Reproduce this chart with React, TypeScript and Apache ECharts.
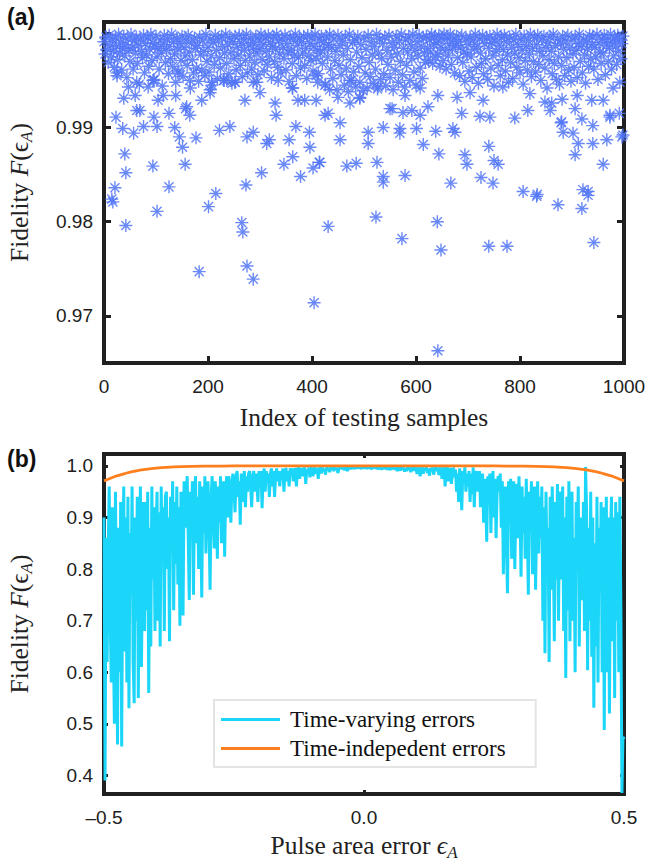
import React, { useEffect, useRef } from "react";
import * as echarts from "echarts";

// ---------- Panel (a): fidelity of 1000 testing samples ----------
const indexMin = 0;
const indexMax = 1000;
const indexTickStep = 200;
const fidelityTicksA = [0.97, 0.98, 0.99, 1.0];

// dense band of samples near F = 1 (sample index = bandStart + k * bandStep)
const bandStart = 0;
const bandStep = 2;
const bandFidelity = [
  0.9991, 0.9978, 0.9996, 0.9983, 0.9969, 0.9998, 0.9987, 0.9975, 0.9993, 0.9981,
  0.9964, 0.9995, 0.9986, 0.9972, 0.9999, 0.9979, 0.999, 0.9961, 0.9984, 0.9997,
  0.9976, 0.9988, 0.9953, 0.9994, 0.9982, 0.997, 0.9999, 0.9985, 0.9962, 0.9992,
  0.9979, 0.9996, 0.9968, 0.9987, 0.9946, 0.9993, 0.9981, 0.9974, 0.9998, 0.9958,
  0.9989, 0.9977, 0.9995, 0.9965, 0.9983, 0.9999, 0.9971, 0.999, 0.9951, 0.9986,
  0.9997, 0.9975, 0.9984, 0.9962, 0.9993, 0.9979, 0.9944, 0.9988, 0.9998, 0.9969,
  0.9982, 0.9994, 0.9957, 0.9986, 0.9973, 0.9999, 0.9965, 0.9991, 0.9978, 0.9948,
  0.9995, 0.9983, 0.996, 0.9989, 0.9971, 0.9997, 0.9954, 0.9985, 0.9976, 0.9993,
  0.9966, 0.9998, 0.998, 0.9942, 0.999, 0.9972, 0.9958, 0.9995, 0.9984, 0.9963,
  0.9987, 0.9949, 0.9996, 0.9977, 0.9961, 0.9992, 0.9981, 0.9955, 0.9999, 0.997,
  0.9985, 0.9959, 0.9994, 0.9976, 0.9945, 0.999, 0.9967, 0.9998, 0.9982, 0.9952,
  0.9993, 0.9974, 0.9963, 0.9996, 0.9986, 0.995, 0.9979, 0.9999, 0.9968, 0.9988,
  0.9957, 0.9995, 0.998, 0.9947, 0.9991, 0.9973, 0.9997, 0.9961, 0.9985, 0.9977,
  0.9998, 0.9966, 0.9989, 0.9954, 0.9994, 0.9982, 0.9971, 0.9999, 0.9958, 0.9987,
  0.9976, 0.9995, 0.9962, 0.999, 0.9983, 0.9969, 0.9997, 0.9979, 0.9956, 0.9993,
  0.9984, 0.9999, 0.9972, 0.9988, 0.996, 0.9995, 0.9981, 0.9967, 0.9998, 0.9975,
  0.999, 0.9953, 0.9986, 0.9996, 0.997, 0.9983, 0.9999, 0.9964, 0.9992, 0.9978,
  0.9958, 0.9994, 0.9985, 0.9973, 0.9998, 0.9961, 0.9989, 0.998, 0.9949, 0.9996,
  0.9982, 0.9968, 0.9993, 0.9977, 0.9999, 0.9955, 0.9987, 0.9974, 0.9995, 0.9963,
  0.9991, 0.9979, 0.9997, 0.9966, 0.9984, 0.9952, 0.9998, 0.9976, 0.9989, 0.9971,
  0.9995, 0.996, 0.9986, 0.9999, 0.9973, 0.9982, 0.9957, 0.9993, 0.9979, 0.9997,
  0.9968, 0.999, 0.9983, 0.9946, 0.9996, 0.9975, 0.9988, 0.9999, 0.9962, 0.9985,
  0.9952, 0.9994, 0.9971, 0.9981, 0.994, 0.9998, 0.9966, 0.9987, 0.9956, 0.9992,
  0.9977, 0.9945, 0.9996, 0.9963, 0.9984, 0.9938, 0.9999, 0.9972, 0.995, 0.999,
  0.9959, 0.9993, 0.9943, 0.998, 0.9997, 0.9965, 0.9948, 0.9988, 0.9974, 0.9939,
  0.9995, 0.9958, 0.9983, 0.9942, 0.9998, 0.9969, 0.9954, 0.9991, 0.9977, 0.9947,
  0.9986, 0.9962, 0.9999, 0.9941, 0.9979, 0.9994, 0.9951, 0.9973, 0.9989, 0.9957,
  0.9996, 0.9944, 0.9982, 0.9967, 0.9998, 0.9953, 0.9975, 0.999, 0.994, 0.9985,
  0.9961, 0.9997, 0.9978, 0.9948, 0.9992, 0.997, 0.9999, 0.9956, 0.9984, 0.9943,
  0.9993, 0.9966, 0.998, 0.9996, 0.995, 0.9988, 0.9973, 0.9999, 0.9959, 0.9982,
  0.9945, 0.9991, 0.9976, 0.9998, 0.9963, 0.9986, 0.9952, 0.9995, 0.9979, 0.9969,
  0.9997, 0.9984, 0.9972, 0.9993, 0.998, 0.9999, 0.9968, 0.9988, 0.9996, 0.9975,
  0.999, 0.9978, 0.9998, 0.9965, 0.9985, 0.9994, 0.9971, 0.9999, 0.9982, 0.9962,
  0.9995, 0.9976, 0.9989, 0.9999, 0.9967, 0.9983, 0.9993, 0.9958, 0.9987, 0.9997,
  0.9974, 0.9991, 0.9955, 0.9985, 0.9998, 0.9969, 0.998, 0.9949, 0.9994, 0.9978,
  0.9988, 0.996, 0.9996, 0.9975, 0.9953, 0.9992, 0.9983, 0.9999, 0.9964, 0.9986,
  0.9947, 0.9994, 0.9979, 0.9968, 0.9998, 0.9957, 0.9989, 0.9973, 0.9995, 0.9951,
  0.9984, 0.9997, 0.9963, 0.999, 0.9976, 0.9944, 0.9993, 0.9981, 0.9999, 0.9966,
  0.9987, 0.9955, 0.9995, 0.9972, 0.9983, 0.9998, 0.996, 0.9991, 0.9977, 0.9948,
  0.9996, 0.9969, 0.9985, 0.9952, 0.9993, 0.9979, 0.9999, 0.9964, 0.9988, 0.9974,
  0.9958, 0.9994, 0.9982, 0.9946, 0.9997, 0.9971, 0.9986, 0.9961, 0.9992, 0.9978,
  0.9999, 0.9954, 0.9984, 0.997, 0.9995, 0.9959, 0.9988, 0.9998, 0.9967, 0.9981,
  0.995, 0.9993, 0.9976, 0.9997, 0.9963, 0.9985, 0.9942, 0.999, 0.9972, 0.9996,
  0.9981, 0.9957, 0.9999, 0.9968, 0.9987, 0.9951, 0.9994, 0.9975, 0.9946, 0.9989,
  0.9966, 0.9997, 0.9983, 0.9955, 0.9992, 0.9974, 0.9998, 0.9961, 0.9985, 0.9949,
  0.9993, 0.9978, 0.9964, 0.9996, 0.9982, 0.9953, 0.9989, 0.9999, 0.997, 0.9986,
  0.9958, 0.9994, 0.9977, 0.9947, 0.9991, 0.9983, 0.9965, 0.9998, 0.9973, 0.9988,
  0.9996, 0.9962, 0.9985, 0.9975, 0.9999, 0.9951, 0.999, 0.998, 0.9968, 0.9994,
  0.9979, 0.9998, 0.9956, 0.9987, 0.9993, 0.997, 0.9984, 0.9999, 0.9962, 0.9991,
  0.9976, 0.9995, 0.9986, 0.9967, 0.9998, 0.9981, 0.9993, 0.9973, 0.9989, 0.9997,
];

// scattered samples with lower fidelity: [sample index, fidelity]
const sparseSamples: [number, number][] = [
  [17, 0.9821], [42, 0.9796], [102, 0.9811], [201, 0.9816], [265, 0.9799], [267, 0.9789],
  [183, 0.9747], [275, 0.9753], [287, 0.9739], [404, 0.9714], [431, 0.9795], [523, 0.9805],
  [573, 0.9782], [641, 0.98], [648, 0.977], [740, 0.9774], [775, 0.9774], [942, 0.9778],
  [642, 0.9663], [873, 0.9818], [919, 0.9814], [833, 0.9829], [931, 0.9832],
  [21, 0.9836], [15, 0.9824], [42, 0.9852], [40, 0.9872], [94, 0.9859], [125, 0.9837],
  [156, 0.9861], [215, 0.983], [273, 0.9839], [303, 0.9852], [346, 0.9861], [363, 0.9869],
  [378, 0.9848], [402, 0.9857], [414, 0.9863],
  [23, 0.9911], [36, 0.9899], [57, 0.9894], [69, 0.9918], [76, 0.9901], [96, 0.9911],
  [102, 0.9901], [125, 0.9915], [136, 0.99], [145, 0.989], [151, 0.9879], [157, 0.992],
  [165, 0.9913], [177, 0.9889], [222, 0.9897], [242, 0.9901], [275, 0.989], [287, 0.9895],
  [313, 0.9883], [331, 0.9913], [318, 0.9887], [356, 0.9887], [369, 0.9901], [395, 0.9895],
  [396, 0.9879], [425, 0.9913],
  [25, 0.9955], [47, 0.9943], [38, 0.9931], [60, 0.9934], [63, 0.9918], [85, 0.9943],
  [96, 0.995], [104, 0.9929], [114, 0.9934], [138, 0.9934], [159, 0.9922], [188, 0.9929],
  [204, 0.9937], [207, 0.9948], [231, 0.995], [252, 0.9948], [271, 0.9929], [294, 0.9948],
  [300, 0.9937], [329, 0.9926], [363, 0.9942], [373, 0.9929], [386, 0.9929], [408, 0.9929],
  [408, 0.9955], [425, 0.9945],
  [431, 0.9915], [450, 0.9932], [454, 0.9905], [473, 0.9926], [492, 0.9932], [550, 0.992],
  [575, 0.9916], [592, 0.9918], [608, 0.9913], [623, 0.9922], [579, 0.9934], [688, 0.9915],
  [723, 0.9912], [742, 0.9911], [790, 0.991], [815, 0.9918], [858, 0.9918], [861, 0.9926],
  [880, 0.9906], [906, 0.992], [919, 0.9909], [940, 0.9902], [960, 0.9929], [973, 0.9913],
  [991, 0.9915], [998, 0.9892],
  [454, 0.9887], [508, 0.9895], [508, 0.9883], [537, 0.99], [569, 0.9899], [569, 0.9894],
  [601, 0.9899], [614, 0.9882], [638, 0.9896], [671, 0.9899], [675, 0.9895], [415, 0.9863],
  [467, 0.9859], [485, 0.9862], [525, 0.9863], [537, 0.9848], [537, 0.9842], [579, 0.9849],
  [644, 0.9872], [694, 0.9871], [698, 0.9861], [740, 0.988], [750, 0.9865], [758, 0.9861],
  [725, 0.9847], [748, 0.9841], [667, 0.9841], [806, 0.9832], [832, 0.9827], [906, 0.9871],
  [921, 0.9834], [931, 0.9828], [960, 0.9861], [879, 0.9905], [883, 0.9895], [902, 0.9894],
  [912, 0.9883], [940, 0.9883], [967, 0.9887], [973, 0.9911], [996, 0.989],
  [492, 0.9931], [527, 0.9943], [554, 0.992], [608, 0.9942], [642, 0.9934], [679, 0.9932],
  [704, 0.9937], [729, 0.9929], [767, 0.9943], [819, 0.9936], [848, 0.9927], [881, 0.993],
  [910, 0.9934], [938, 0.9929], [979, 0.9942], [992, 0.9948],
  [25, 0.9958], [63, 0.9948], [94, 0.995], [142, 0.9958], [165, 0.995], [204, 0.994],
  [236, 0.995], [252, 0.9948], [287, 0.9948], [335, 0.995], [362, 0.9942], [411, 0.9948],
  [434, 0.994], [473, 0.995],
];

// ---------- Panel (b): fidelity vs pulse area error ----------
const epsTicks = [-0.5, 0, 0.5];
const fidelityTicksB = [0.4, 0.5, 0.6, 0.7, 0.8, 0.9, 1.0];
const epsStart = -0.5;
const epsStep = 0.002;
const timeVaryingF = [
  0.9, 0.39, 0.86, 0.62, 0.83, 0.96, 0.7, 0.58, 0.92, 0.66,
  0.5, 0.95, 0.72, 0.46, 0.88, 0.6, 0.93, 0.456, 0.82, 0.96,
  0.64, 0.9, 0.58, 0.94, 0.53, 0.87, 0.75, 0.96, 0.62, 0.54,
  0.9, 0.7, 0.94, 0.55, 0.85, 0.96, 0.61, 0.8, 0.93, 0.68,
  0.93, 0.72, 0.95, 0.56, 0.88, 0.65, 0.96, 0.78, 0.92, 0.68,
  0.86, 0.95, 0.7, 0.91, 0.65, 0.96, 0.82, 0.92, 0.68, 0.94,
  0.95, 0.8, 0.9, 0.66, 0.94, 0.84, 0.97, 0.72, 0.93, 0.81,
  0.96, 0.77, 0.92, 0.69, 0.95, 0.85, 0.71, 0.97, 0.88, 0.93,
  0.98, 0.86, 0.74, 0.95, 0.88, 0.97, 0.75, 0.93, 0.98, 0.85,
  0.94, 0.8, 0.97, 0.9, 0.745, 0.96, 0.87, 0.98, 0.83, 0.95,
  0.97, 0.88, 0.76, 0.94, 0.98, 0.9, 0.84, 0.97, 0.92, 0.82,
  0.96, 0.89, 0.98, 0.85, 0.93, 0.97, 0.824, 0.95, 0.98, 0.9,
  0.98, 0.93, 0.89, 0.97, 0.985, 0.95, 0.91, 0.98, 0.99, 0.94,
  0.97, 0.886, 0.985, 0.93, 0.96, 0.99, 0.92, 0.98, 0.95, 0.985,
  0.99, 0.96, 0.92, 0.98, 0.99, 0.95, 0.985, 0.97, 0.93, 0.99,
  0.97, 0.99, 0.918, 0.98, 0.995, 0.95, 0.99, 0.97, 0.985, 0.94,
  0.985, 0.995, 0.96, 0.99, 0.94, 0.98, 0.995, 0.97, 0.99, 0.96,
  0.99, 0.975, 0.995, 0.95, 0.985, 0.996, 0.97, 0.99, 0.96, 0.995,
  0.99, 0.995, 0.97, 0.985, 0.996, 0.96, 0.99, 0.997, 0.975, 0.99,
  0.996, 0.98, 0.99, 0.997, 0.965, 0.993, 0.985, 0.997, 0.978, 0.995,
  0.996, 0.98, 0.993, 0.997, 0.985, 0.996, 0.975, 0.995, 0.997, 0.985,
  0.997, 0.99, 0.995, 0.983, 0.997, 0.992, 0.996, 0.988, 0.997, 0.994,
  0.996, 0.99, 0.997, 0.993, 0.996, 0.986, 0.997, 0.995, 0.997, 0.994,
  0.997, 0.992, 0.996, 0.997, 0.99, 0.996, 0.997, 0.994, 0.997, 0.995,
  0.997, 0.995, 0.997, 0.996, 0.997, 0.997, 0.996, 0.995, 0.997, 0.996,
  0.997, 0.996, 0.997, 0.995, 0.997, 0.996, 0.997, 0.994, 0.996, 0.997,
  0.997, 0.997, 0.995, 0.996, 0.994, 0.997, 0.996, 0.993, 0.996, 0.997,
  0.995, 0.997, 0.993, 0.996, 0.997, 0.992, 0.996, 0.997, 0.994, 0.996,
  0.993, 0.997, 0.99, 0.996, 0.995, 0.991, 0.997, 0.994, 0.996, 0.989,
  0.996, 0.99, 0.997, 0.993, 0.996, 0.988, 0.997, 0.994, 0.991, 0.997,
  0.996, 0.984, 0.997, 0.993, 0.98, 0.995, 0.997, 0.985, 0.996, 0.992,
  0.997, 0.986, 0.995, 0.981, 0.996, 0.99, 0.997, 0.983, 0.994, 0.997,
  0.99, 0.997, 0.982, 0.994, 0.996, 0.975, 0.99, 0.997, 0.96, 0.993,
  0.997, 0.97, 0.99, 0.996, 0.965, 0.985, 0.997, 0.978, 0.993, 0.95,
  0.985, 0.93, 0.995, 0.96, 0.914, 0.99, 0.975, 0.997, 0.95, 0.985,
  0.96, 0.99, 0.93, 0.985, 0.945, 0.997, 0.92, 0.975, 0.99, 0.95,
  0.97, 0.99, 0.92, 0.96, 0.985, 0.89, 0.975, 0.94, 0.853, 0.98,
  0.93, 0.985, 0.87, 0.96, 0.99, 0.9, 0.975, 0.86, 0.95, 0.98,
  0.95, 0.985, 0.88, 0.97, 0.79, 0.93, 0.96, 0.84, 0.753, 0.97,
  0.9, 0.975, 0.82, 0.94, 0.97, 0.8, 0.92, 0.965, 0.86, 0.98,
  0.91, 0.785, 0.96, 0.87, 0.94, 0.82, 0.975, 0.89, 0.75, 0.95,
  0.88, 0.97, 0.79, 0.93, 0.96, 0.76, 0.9, 0.97, 0.83, 0.94,
  0.86, 0.96, 0.7, 0.92, 0.637, 0.95, 0.8, 0.88, 0.62, 0.94,
  0.76, 0.96, 0.85, 0.66, 0.93, 0.78, 0.965, 0.7, 0.9, 0.95,
  0.78, 0.96, 0.68, 0.9, 0.589, 0.94, 0.72, 0.97, 0.66, 0.89,
  0.95, 0.7, 0.86, 0.6, 0.93, 0.8, 0.96, 0.65, 0.9, 0.74,
  0.75, 0.93, 0.68, 0.998, 0.92, 0.604, 0.88, 0.7, 0.95, 0.63,
  0.9, 0.531, 0.85, 0.65, 0.94, 0.58, 0.88, 0.76, 0.93, 0.6,
  0.92, 0.488, 0.8, 0.94, 0.6, 0.9, 0.52, 0.86, 0.94, 0.66,
  0.9, 0.55, 0.93, 0.7, 0.91, 0.6, 0.94, 0.72, 0.366, 0.475,
  0.47,
];
const timeIndepEps = [
  -0.5, -0.49, -0.48, -0.47, -0.46, -0.45, -0.44, -0.42, -0.4, -0.38, -0.35, -0.3, -0.25, -0.15,
  0, 0.15, 0.25, 0.3, 0.35, 0.38, 0.4, 0.42, 0.44, 0.45, 0.46, 0.47, 0.48, 0.49, 0.5,
];
const timeIndepF = [
  0.971, 0.975, 0.979, 0.982, 0.985, 0.988, 0.99, 0.993, 0.9955, 0.9972, 0.9985, 0.9994, 0.9998, 1.0,
  1.0, 1.0, 0.9998, 0.9994, 0.9985, 0.9972, 0.9955, 0.993, 0.99, 0.988, 0.985, 0.982, 0.979, 0.975, 0.971,
];

const seriesNames = ["Time-varying errors", "Time-indepedent errors"];

const AX = "#202020";
const SANS = "'Liberation Sans', Arial, Helvetica, sans-serif";
const SERIF = "'Liberation Serif', 'Times New Roman', serif";
const STAR = "path://M5,0L5,10M0,5L10,5M1.5,1.5L8.5,8.5M1.5,8.5L8.5,1.5";
const NAME_SIZE = 25.5;

const nameRich = {
  i: { fontStyle: "italic", fontFamily: SERIF, fontSize: NAME_SIZE, color: "#222", verticalAlign: "middle", lineHeight: 31 },
  n: { fontFamily: SERIF, fontSize: NAME_SIZE, color: "#222", verticalAlign: "middle", lineHeight: 31 },
  s: { fontStyle: "italic", fontFamily: SERIF, fontSize: 17, color: "#222", verticalAlign: "bottom", lineHeight: 31 },
};

function yPair(grid: number, min: number, max: number, ticks: number[], digits: number, len: number, name: string, gap: number) {
  const line = { show: true, onZero: false, lineStyle: { color: AX, width: 4 } };
  const tick = { show: true, inside: true, length: len, customValues: ticks, lineStyle: { color: AX, width: 3 } };
  return [
    {
      type: "value", gridIndex: grid, min, max, position: "left",
      axisLine: line, axisTick: tick, splitLine: { show: false },
      axisLabel: {
        customValues: ticks, formatter: (v: number) => v.toFixed(digits),
        color: AX, fontSize: 19, fontFamily: SANS, margin: 11,
      },
      name, nameLocation: "middle", nameGap: gap, nameRotate: 90, nameMoveOverlap: false,
      nameTextStyle: { fontFamily: SERIF, fontSize: NAME_SIZE, color: "#222", rich: nameRich },
    },
    {
      type: "value", gridIndex: grid, min, max, position: "right",
      axisLine: line, axisTick: tick, splitLine: { show: false }, axisLabel: { show: false },
    },
  ];
}

function xPair(grid: number, min: number, max: number, interval: number, fmt: (v: number) => string, len: number, name: string, gap: number) {
  const line = { show: true, onZero: false, lineStyle: { color: AX, width: 4 } };
  const tick = { show: true, inside: true, length: len, lineStyle: { color: AX, width: 3 } };
  return [
    {
      type: "value", gridIndex: grid, min, max, interval, position: "bottom",
      axisLine: line, axisTick: tick, splitLine: { show: false },
      axisLabel: { formatter: fmt, color: AX, fontSize: 19, fontFamily: SANS, margin: 14 },
      name, nameLocation: "middle", nameGap: gap, nameMoveOverlap: false,
      nameTextStyle: { fontFamily: SERIF, fontSize: NAME_SIZE, color: "#222", rich: nameRich },
    },
    {
      type: "value", gridIndex: grid, min, max, interval, position: "top",
      axisLine: line, axisTick: tick, splitLine: { show: false }, axisLabel: { show: false },
    },
  ];
}

export default function App() {
  const ref = useRef<HTMLDivElement>(null);
  useEffect(() => {
    if (!ref.current) return;
    const chart = echarts.init(ref.current, null, { renderer: "svg" });

    const scatterData: [number, number][] = [
      ...bandFidelity.map((f, k) => [bandStart + k * bandStep, f] as [number, number]),
      ...sparseSamples,
    ];
    const tvData = timeVaryingF.map((f, i) => [epsStart + i * epsStep, f]);
    const tiData = timeIndepEps.map((e, i) => [e, timeIndepF[i]]);

    const fmtEps = (v: number) => (v < 0 ? "\u2013" + Math.abs(v).toFixed(1) : v.toFixed(1));
    const fidelityName = "{n|Fidelity }{i|F}{n|(\u03f5}{s|A}{n|)}";

    chart.setOption({
      animation: false,
      backgroundColor: "#ffffff",
      grid: [
        { left: 104, right: 23, top: 22, height: 341, containLabel: false, outerBoundsMode: "none",
          show: true, borderColor: AX, borderWidth: 4, backgroundColor: "transparent" },
        { left: 104, right: 23, top: 454, height: 340, containLabel: false, outerBoundsMode: "none",
          show: true, borderColor: AX, borderWidth: 4, backgroundColor: "transparent" },
      ],
      xAxis: [
        ...xPair(0, indexMin, indexMax, indexTickStep, (v: number) => String(v), 7,
          "{n|Index of testing samples}", 39),
        ...xPair(1, epsTicks[0], epsTicks[2], 0.5, fmtEps, 4,
          "{n|Pulse area error }{i|\u03f5}{s|A}", 36),
      ],
      yAxis: [
        ...yPair(0, 0.965, 1.0012, fidelityTicksA, 2, 7, fidelityName, 69),
        ...yPair(1, 0.364, 1.023, fidelityTicksB, 1, 4, fidelityName, 69),
      ],
      legend: {
        data: seriesNames,
        orient: "vertical",
        left: 214,
        top: 700,
        icon: "rect",
        itemWidth: 59,
        itemHeight: 3,
        itemGap: 6,
        padding: [8, 30, 7, 7],
        borderColor: "#e4e4e4",
        borderWidth: 2,
        backgroundColor: "#ffffff",
        textStyle: { fontFamily: SERIF, fontSize: 23, color: "#111", padding: [0, 0, 0, 5], lineHeight: 18 },
      },
      graphic: [
        { type: "text", left: 7, top: 5, style: { text: "(a)", fontFamily: SANS, fontWeight: "bold", fontSize: 23, fill: "#111" } },
        { type: "text", left: 7, top: 447, style: { text: "(b)", fontFamily: SANS, fontWeight: "bold", fontSize: 23, fill: "#111" } },
      ],
      series: [
        {
          type: "scatter",
          xAxisIndex: 0,
          yAxisIndex: 0,
          data: scatterData,
          symbol: STAR,
          symbolSize: 13,
          silent: true,
          itemStyle: { color: "rgba(0,0,0,0)", borderColor: "#5074f7", borderWidth: 1.4, opacity: 0.85 },
        },
        {
          type: "line",
          name: seriesNames[0],
          xAxisIndex: 2,
          yAxisIndex: 2,
          data: tvData,
          symbol: "none",
          showSymbol: false,
          color: "#1bd6f8",
          lineStyle: { color: "#1bd6f8", width: 3 },
          z: 2,
        },
        {
          type: "line",
          name: seriesNames[1],
          xAxisIndex: 2,
          yAxisIndex: 2,
          data: tiData,
          smooth: 0.4,
          symbol: "none",
          showSymbol: false,
          color: "#ff7f1e",
          lineStyle: { color: "#ff7f1e", width: 2.8 },
          z: 3,
        },
      ],
    });
    return () => chart.dispose();
  }, []);

  return (
    <div
      ref={ref}
      style={{ position: "fixed", left: 0, top: 0, width: 647, height: 863, background: "#fff" }}
    />
  );
}
